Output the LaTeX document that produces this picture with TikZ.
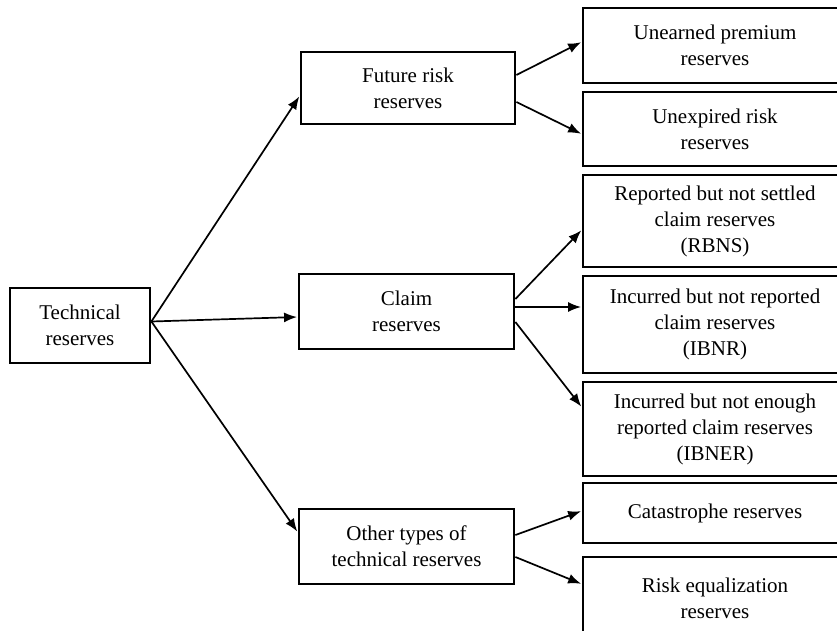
\documentclass[tikz,border=0pt]{standalone}
\usepackage{fontspec}
\setmainfont{Liberation Serif}
\usetikzlibrary{arrows.meta}
\tikzset{
  box/.style={draw=black, line width=2.8pt, fill=white, inner sep=0pt, align=center,
    font=\fontsize{21}{26}\selectfont, text=black},
  conn/.style={line width=1.7pt, -{Latex[length=13pt,width=10pt]}, shorten >=0.5pt}
}
\begin{document}
\begin{tikzpicture}[x=1pt,y=-1pt]
\useasboundingbox (0,0) rectangle (837,631);
% left and middle boxes
\node[box, minimum width=140pt, minimum height=75pt] (tech) at (80,325.5) {Technical\\reserves};
\node[box, minimum width=214pt, minimum height=72pt] (future) at (408,88) {Future risk\\reserves};
\node[box, minimum width=215pt, minimum height=75pt] (claim) at (406.5,311.5) {Claim\\reserves};
\node[box, minimum width=215pt, minimum height=75pt] (other) at (406.5,546.5) {Other types of\\technical reserves};
% right boxes
\node[box, minimum width=264pt, minimum height=75pt] (unearned) at (715,45.5) {Unearned premium\\reserves};
\node[box, minimum width=264pt, minimum height=74pt] (unexpired) at (715,129) {Unexpired risk\\reserves};
\node[box, minimum width=264pt, minimum height=92pt] (rbns) at (715,221) {Reported but not settled\\claim reserves\\(RBNS)};
\node[box, minimum width=264pt, minimum height=97pt] (ibnr) at (715,324.5) {Incurred but not reported\\claim reserves\\(IBNR)};
\node[box, minimum width=264pt, minimum height=94pt] (ibner) at (715,429) {Incurred but not enough\\reported claim reserves\\(IBNER)};
\node[box, minimum width=264pt, minimum height=60pt] (cat) at (715,513) {Catastrophe reserves};
\node[box, minimum width=264pt, minimum height=83pt] (risk) at (715,598.5) {Risk equalization\\reserves};
% connectors
\draw[conn] ([yshift=4pt]tech.east) -- ([yshift=-8pt]future.west);
\draw[conn] ([yshift=4pt]tech.east) -- ([yshift=-5.5pt]claim.west);
\draw[conn] ([yshift=4pt]tech.east) -- ([yshift=14.5pt]other.west);
\draw[conn] ([yshift=13pt]future.east) -- ([yshift=3.5pt]unearned.west);
\draw[conn] ([yshift=-14pt]future.east) -- ([yshift=-5pt]unexpired.west);
\draw[conn] ([yshift=12.5pt]claim.east) -- ([yshift=-9pt]rbns.west);
\draw[conn] ([yshift=4.5pt]claim.east) -- ([yshift=17.5pt]ibnr.west);
\draw[conn] ([yshift=-10.5pt]claim.east) -- ([yshift=22pt]ibner.west);
\draw[conn] ([yshift=11.5pt]other.east) -- ([yshift=2pt]cat.west);
\draw[conn] ([yshift=-10.5pt]other.east) -- ([yshift=14.5pt]risk.west);
\end{tikzpicture}
\end{document}
